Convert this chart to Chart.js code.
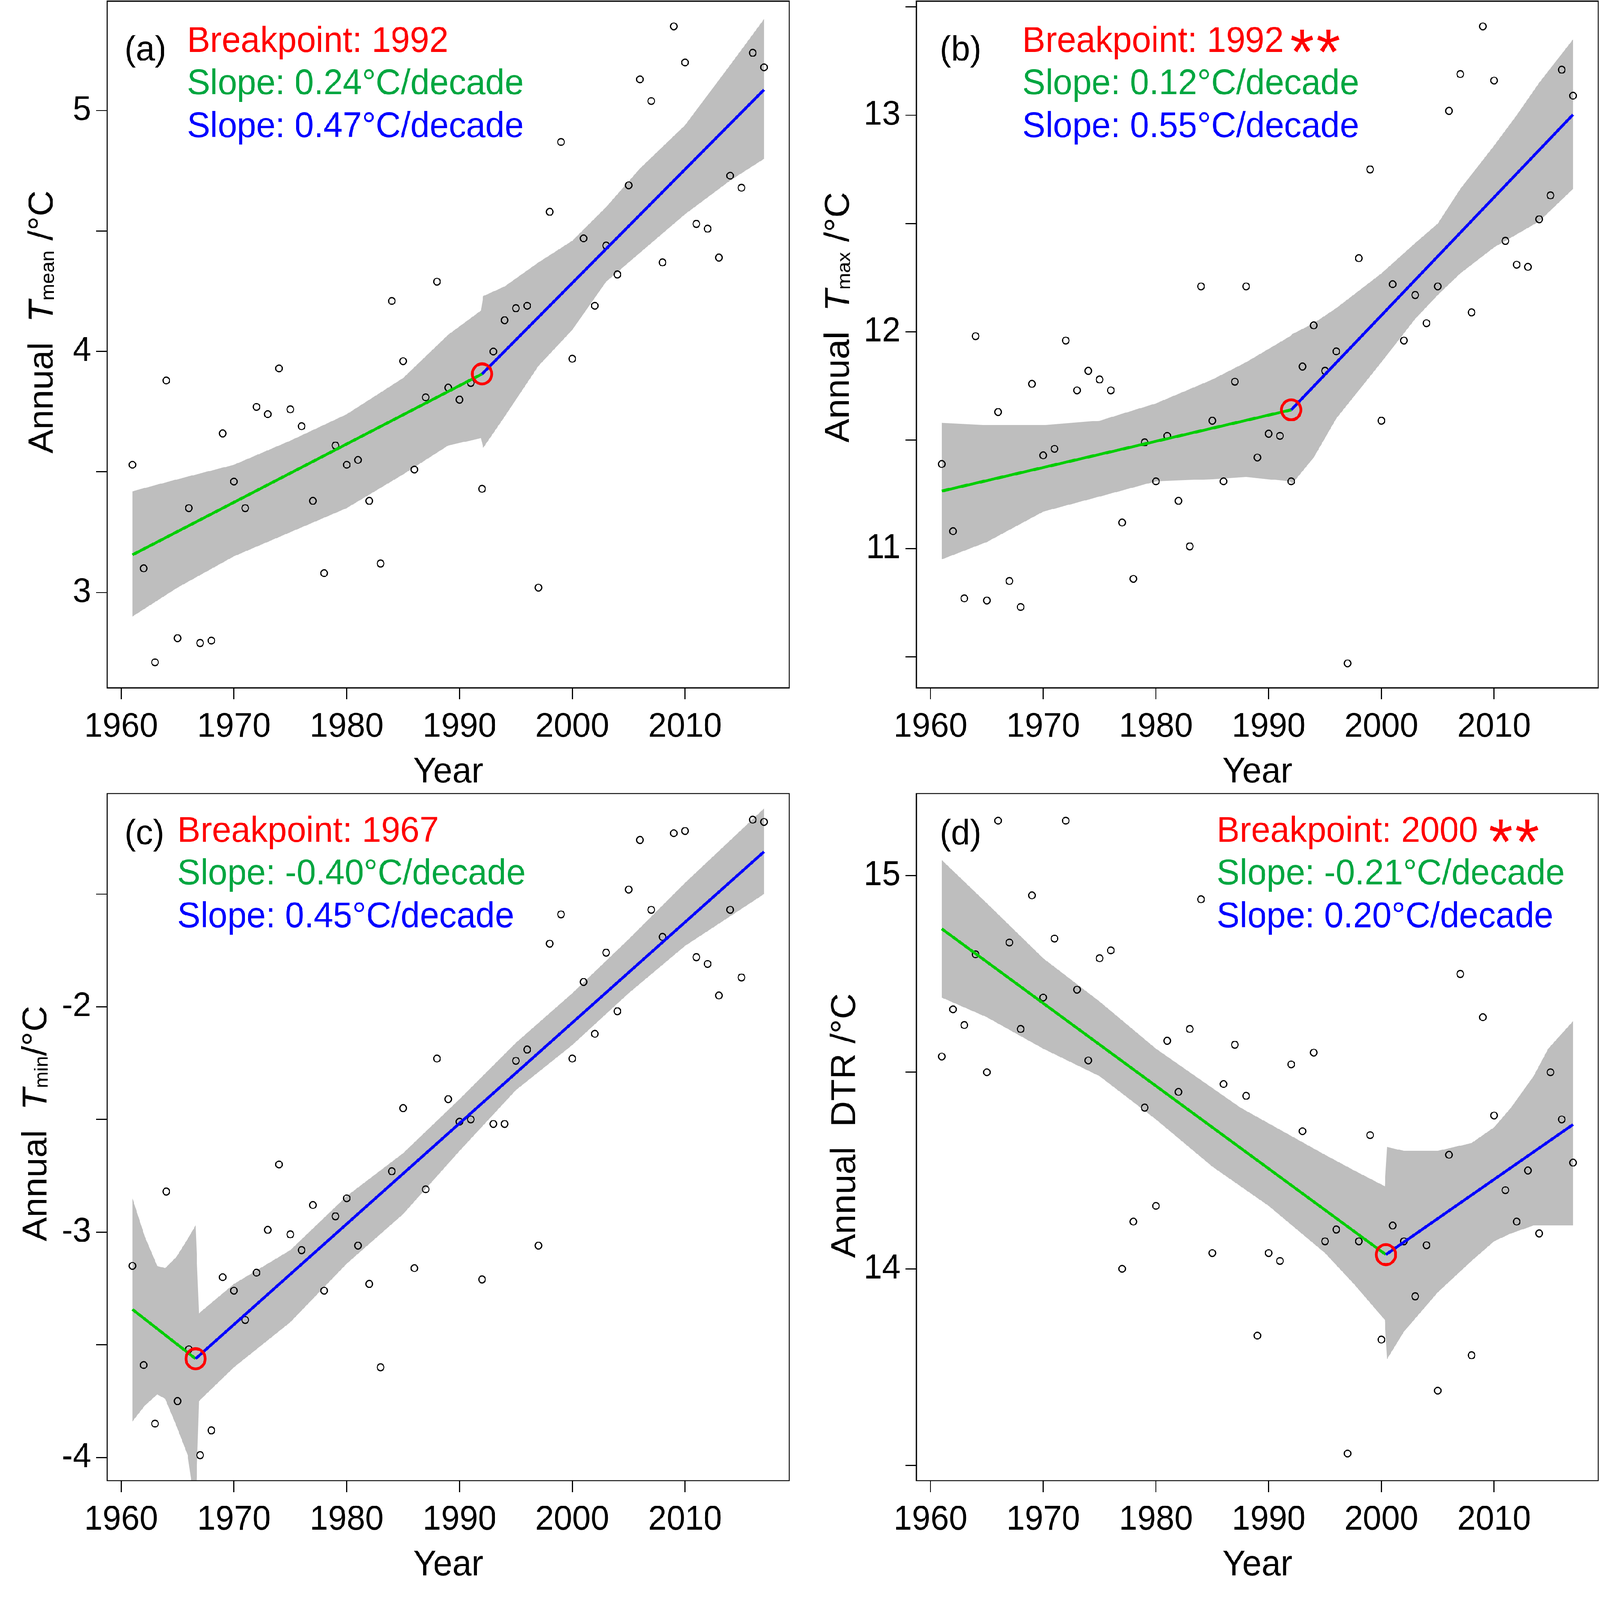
<!DOCTYPE html>
<html>
<head>
<meta charset="utf-8">
<title>Annual temperature breakpoints</title>
<script src="https://cdn.jsdelivr.net/npm/chart.js@4.4.1/dist/chart.umd.min.js"></script>
<style>
  html, body { margin: 0; padding: 0; background: #fff; overflow: hidden; }
  #page { position: relative; width: 4628px; height: 4478px; background: #fff; transform-origin: 0 0; }
  canvas { position: absolute; }
</style>
</head>
<body>
<div id="page">
  <canvas id="panelA" width="2314" height="2200" style="left:0px;top:0px"></canvas>
  <canvas id="panelB" width="2314" height="2200" style="left:2314px;top:0px"></canvas>
  <canvas id="panelC" width="2314" height="2278" style="left:0px;top:2200px"></canvas>
  <canvas id="panelD" width="2314" height="2278" style="left:2314px;top:2200px"></canvas>
</div>
<script>
// ---- data ----
const years = [1961, 1962, 1963, 1964, 1965, 1966, 1967, 1968, 1969, 1970,
               1971, 1972, 1973, 1974, 1975, 1976, 1977, 1978, 1979, 1980,
               1981, 1982, 1983, 1984, 1985, 1986, 1987, 1988, 1989, 1990,
               1991, 1992, 1993, 1994, 1995, 1996, 1997, 1998, 1999, 2000,
               2001, 2002, 2003, 2004, 2005, 2006, 2007, 2008, 2009, 2010,
               2011, 2012, 2013, 2014, 2015, 2016, 2017];

const tmeanValues = [3.53, 3.10, 2.71, 3.88, 2.81, 3.35, 2.79, 2.80, 3.66, 3.46,
                     3.35, 3.77, 3.74, 3.93, 3.76, 3.69, 3.38, 3.08, 3.61, 3.53,
                     3.55, 3.38, 3.12, 4.21, 3.96, 3.51, 3.81, 4.29, 3.85, 3.80,
                     3.87, 3.43, 4.00, 4.13, 4.18, 4.19, 3.02, 4.58, 4.87, 3.97,
                     4.47, 4.19, 4.44, 4.32, 4.69, 5.13, 5.04, 4.37, 5.35, 5.20,
                     4.53, 4.51, 4.39, 4.73, 4.68, 5.24, 5.18];

const tmaxValues = [11.39, 11.08, 10.77, 11.98, 10.76, 11.63, 10.85, 10.73, 11.76, 11.43,
                    11.46, 11.96, 11.73, 11.82, 11.78, 11.73, 11.12, 10.86, 11.49, 11.31,
                    11.52, 11.22, 11.01, 12.21, 11.59, 11.31, 11.77, 12.21, 11.42, 11.53,
                    11.52, 11.31, 11.84, 12.03, 11.82, 11.91, 10.47, 12.34, 12.75, 11.59,
                    12.22, 11.96, 12.17, 12.04, 12.21, 13.02, 13.19, 12.09, 13.41, 13.16,
                    12.42, 12.31, 12.30, 12.52, 12.63, 13.21, 13.09];

const tminValues = [-3.15, -3.59, -3.85, -2.82, -3.75, -3.52, -3.99, -3.88, -3.20, -3.26,
                    -3.39, -3.18, -2.99, -2.70, -3.01, -3.08, -2.88, -3.26, -2.93, -2.85,
                    -3.06, -3.23, -3.60, -2.73, -2.45, -3.16, -2.81, -2.23, -2.41, -2.51,
                    -2.50, -3.21, -2.52, -2.52, -2.24, -2.19, -3.06, -1.72, -1.59, -2.23,
                    -1.89, -2.12, -1.76, -2.02, -1.48, -1.26, -1.57, -1.69, -1.23, -1.22,
                    -1.78, -1.81, -1.95, -1.57, -1.87, -1.17, -1.18];

const dtrValues = [14.54, 14.66, 14.62, 14.80, 14.50, 15.14, 14.83, 14.61, 14.95, 14.69,
                   14.84, 15.14, 14.71, 14.53, 14.79, 14.81, 14.00, 14.12, 14.41, 14.16,
                   14.58, 14.45, 14.61, 14.94, 14.04, 14.47, 14.57, 14.44, 13.83, 14.04,
                   14.02, 14.52, 14.35, 14.55, 14.07, 14.10, 13.53, 14.07, 14.34, 13.82,
                   14.11, 14.07, 13.93, 14.06, 13.69, 14.29, 14.75, 13.78, 14.64, 14.39,
                   14.20, 14.12, 14.25, 14.09, 14.50, 14.38, 14.27];

// piecewise fits: start, breakpoint, end
const tmeanFitYears = [1961, 1992, 2017];
const tmeanFitValues = [3.156, 3.907, 5.087];
const tmaxFitYears = [1961, 1992, 2017];
const tmaxFitValues = [11.265, 11.640, 13.003];
const tminFitYears = [1961, 1966.6, 2017];
const tminFitValues = [-3.343, -3.562, -1.312];
const dtrFitYears = [1961, 2000.4, 2017];
const dtrFitValues = [14.865, 14.036, 14.367];

// confidence bands
const tmeanBandYears = [1961, 1965, 1970, 1975, 1980, 1985, 1989, 1991.9, 1992.1, 1994, 1997, 2000, 2003, 2006, 2010, 2014, 2017];
const tmeanBandUpper = [3.42, 3.47, 3.53, 3.63, 3.74, 3.89, 4.07, 4.17, 4.23, 4.27, 4.37, 4.46, 4.60, 4.76, 4.94, 5.19, 5.38];
const tmeanBandLower = [2.90, 3.02, 3.15, 3.25, 3.35, 3.49, 3.61, 3.64, 3.60, 3.73, 3.94, 4.09, 4.29, 4.41, 4.57, 4.71, 4.80];

const tmaxBandYears = [1961, 1965, 1970, 1975, 1980, 1985, 1988, 1991.9, 1992.1, 1994, 1996, 2000, 2003, 2005, 2007, 2010, 2012, 2014, 2017];
const tmaxBandUpper = [11.58, 11.57, 11.57, 11.59, 11.67, 11.78, 11.86, 11.98, 11.99, 12.04, 12.11, 12.27, 12.41, 12.50, 12.66, 12.86, 13.00, 13.15, 13.35];
const tmaxBandLower = [10.95, 11.03, 11.17, 11.24, 11.31, 11.32, 11.33, 11.31, 11.30, 11.42, 11.60, 11.86, 12.06, 12.17, 12.27, 12.39, 12.45, 12.51, 12.66];

const tminBandYears = [1961, 1962.1, 1963.2, 1963.9, 1964.9, 1965.9, 1966.6, 1966.9, 1970, 1975, 1980, 1985, 1990, 1995, 2000, 2005, 2010, 2017];
const tminBandUpper = [-2.85, -3.02, -3.15, -3.16, -3.11, -3.03, -2.97, -3.36, -3.23, -3.08, -2.84, -2.65, -2.41, -2.16, -1.94, -1.70, -1.45, -1.12];
const tminBandLower = [-3.84, -3.77, -3.72, -3.74, -3.86, -3.99, -4.25, -3.75, -3.60, -3.40, -3.14, -2.92, -2.64, -2.37, -2.17, -1.94, -1.73, -1.50];

const dtrBandYears = [1961, 1965, 1970, 1975, 1980, 1985, 1987.5, 1990, 1995, 1997.6, 2000.3, 2000.5, 2002, 2005, 2008, 2010, 2011.5, 2013.5, 2014.8, 2017];
const dtrBandUpper = [15.04, 14.93, 14.79, 14.68, 14.56, 14.46, 14.41, 14.37, 14.29, 14.25, 14.21, 14.31, 14.30, 14.30, 14.32, 14.36, 14.41, 14.49, 14.56, 14.63];
const dtrBandLower = [14.69, 14.64, 14.56, 14.49, 14.38, 14.26, 14.21, 14.16, 14.04, 13.96, 13.87, 13.77, 13.84, 13.94, 14.02, 14.07, 14.09, 14.11, 14.11, 14.11];

// axes
const xMin = 1958.76, xMax = 2019.24;
const xTickValues = [1960, 1970, 1980, 1990, 2000, 2010];
const tmeanTicks = [3, 3.5, 4, 4.5, 5];
const tmeanLabels = [3, 4, 5];
const tmaxTicks = [10.5, 11, 11.5, 12, 12.5, 13, 13.5];
const tmaxLabels = [11, 12, 13];
const tminTicks = [-4, -3.5, -3, -2.5, -2, -1.5];
const tminLabels = [-4, -3, -2];
const dtrTicks = [13.5, 14, 14.5, 15];
const dtrLabels = [14, 15];

const FONT = '"Liberation Sans", Arial, Helvetica, sans-serif';
const RED = '#FF0000', TEXT_GREEN = '#00A640', LINE_GREEN = '#00CD00', BLUE = '#0000FF';

// the figure is laid out at 4628x4478; stretch it onto the viewport we actually get
function fitPage() {
    const kx = Math.min(window.innerWidth / 4628, 1);
    const ky = Math.min(window.innerHeight / 4478, 1);
    document.getElementById('page').style.transform = 'scale(' + kx + ',' + ky + ')';
}
fitPage();

function toPoints(xs, ys) {
    return xs.map((x, i) => ({ x: x, y: ys[i] }));
}

// box, panel letter, annotation, axis titles
function makeTextPlugin(p) {
    return {
        id: 'panelText',
        afterDraw(chart) {
            const c = chart.ctx;
            const a = chart.chartArea;
            c.save();
            c.strokeStyle = '#000';
            c.lineWidth = 3.3;
            c.strokeRect(a.left, a.top, a.right - a.left, a.bottom - a.top);

            c.textAlign = 'left';
            c.textBaseline = 'alphabetic';
            c.fillStyle = '#000';
            c.font = '99px ' + FONT;
            c.fillText(p.letter, a.left + p.letterX, a.top + p.letterY);

            c.font = '100px ' + FONT;
            p.notes.forEach((n, i) => {
                c.fillStyle = n.color;
                c.fillText(n.text, a.left + p.noteX, a.top + p.noteY[i]);
            });
            if (p.starDX) {
                c.font = '100px ' + FONT;
                const w = c.measureText(p.notes[0].text).width;
                const sx = a.left + p.noteX + w + p.starDX;
                const sy = a.top + p.noteY[0] + 62;
                c.font = '180px ' + FONT;
                c.textAlign = 'center';
                c.fillStyle = RED;
                c.fillText('*', sx, sy);
                c.fillText('*', sx + 76, sy);
            }

            // x title
            c.fillStyle = '#000';
            c.textAlign = 'center';
            c.font = '100px ' + FONT;
            c.fillText('Year', (a.left + a.right) / 2, a.bottom + 265);

            // y title, rotated, built from pieces (italic T + subscript)
            c.textAlign = 'left';
            let total = 0;
            p.yTitle.forEach(s => { c.font = s.font; total += c.measureText(s.text).width; });
            c.translate(a.left - p.yTitleOffset, (a.top + a.bottom) / 2 + p.yTitleShift);
            c.rotate(-Math.PI / 2);
            let x = -total / 2;
            p.yTitle.forEach(s => {
                c.font = s.font;
                c.fillText(s.text, x, s.dy || 0);
                x += c.measureText(s.text).width;
            });
            c.restore();
        }
    };
}

function drawPanel(canvasId, p) {
    const ctx = document.getElementById(canvasId).getContext('2d');
    const tickGrid = { drawOnChartArea: false, drawTicks: true, tickLength: 32, tickWidth: 3, tickColor: '#000' };
    return new Chart(ctx, {
        type: 'line',
        data: {
            datasets: [
                { label: 'breakpoint', data: [{ x: p.fitX[1], y: p.fitY[1] }], showLine: false,
                  pointRadius: 28, pointBorderWidth: 8, pointBorderColor: RED,
                  pointBackgroundColor: 'rgba(0,0,0,0)', order: 1 },
                { label: 'after', data: toPoints(p.fitX.slice(1), p.fitY.slice(1)),
                  borderColor: BLUE, borderWidth: 8, pointRadius: 0, fill: false, order: 2 },
                { label: 'before', data: toPoints(p.fitX.slice(0, 2), p.fitY.slice(0, 2)),
                  borderColor: LINE_GREEN, borderWidth: 8, pointRadius: 0, fill: false, order: 3 },
                { label: 'observed', data: toPoints(years, p.values), showLine: false,
                  pointRadius: 9.5, pointBorderWidth: 3.2, pointBorderColor: '#000',
                  pointBackgroundColor: 'rgba(0,0,0,0)', order: 4 },
                { label: 'upper', data: toPoints(p.bandX, p.bandHi), borderColor: 'rgba(0,0,0,0)',
                  borderWidth: 1, pointRadius: 0, fill: '+1', backgroundColor: '#BEBEBE', order: 5, clip: 0 },
                { label: 'lower', data: toPoints(p.bandX, p.bandLo), borderColor: 'rgba(0,0,0,0)',
                  borderWidth: 1, pointRadius: 0, fill: false, order: 6, clip: 0 }
            ]
        },
        options: {
            responsive: false,
            animation: false,
            devicePixelRatio: 1,
            events: [],
            layout: { autoPadding: false, padding: { left: 0, top: p.padTop, right: p.padRight, bottom: 0 } },
            plugins: { legend: { display: false }, tooltip: { enabled: false } },
            scales: {
                x: {
                    type: 'linear', position: 'bottom', min: xMin, max: xMax,
                    afterBuildTicks: s => { s.ticks = xTickValues.map(v => ({ value: v })); },
                    afterFit: s => { s.height = p.xAxisHeight; s.paddingLeft = 0; s.paddingRight = 0; },
                    grid: tickGrid,
                    border: { display: false },
                    ticks: { color: '#000', font: { family: FONT, size: 96 }, padding: 21,
                             maxRotation: 0, minRotation: 0, autoSkip: false,
                             callback: v => String(v) }
                },
                y: {
                    type: 'linear', position: 'left', min: p.yMin, max: p.yMax,
                    afterBuildTicks: s => { s.ticks = p.yTicks.map(v => ({ value: v })); },
                    afterFit: s => { s.width = p.yAxisWidth; s.paddingTop = 0; s.paddingBottom = 0; },
                    grid: tickGrid,
                    border: { display: false },
                    ticks: { color: '#000', font: { family: FONT, size: 96 }, padding: 14, autoSkip: false,
                             callback: v => (p.yLabels.includes(v) ? String(v) : '') }
                }
            }
        },
        plugins: [makeTextPlugin(p)]
    });
}

const N = '100px ' + FONT, I = 'italic 100px ' + FONT, S = '56px ' + FONT;

drawPanel('panelA', {
    values: tmeanValues, fitX: tmeanFitYears, fitY: tmeanFitValues,
    bandX: tmeanBandYears, bandHi: tmeanBandUpper, bandLo: tmeanBandLower,
    yMin: 2.604, yMax: 5.455, yTicks: tmeanTicks, yLabels: tmeanLabels,
    padTop: 3, padRight: 31, yAxisWidth: 310, xAxisHeight: 275,
    letter: '(a)', letterX: 50, letterY: 166,
    noteX: 231, noteY: [142, 261, 381],
    notes: [{ text: 'Breakpoint: 1992', color: RED },
            { text: 'Slope: 0.24°C/decade', color: TEXT_GREEN },
            { text: 'Slope: 0.47°C/decade', color: BLUE }],
    yTitle: [{ text: 'Annual  ', font: N }, { text: 'T', font: I },
             { text: 'mean', font: S, dy: 4 }, { text: ' /°C', font: N }],
    yTitleOffset: 158, yTitleShift: -63
});

drawPanel('panelB', {
    values: tmaxValues, fitX: tmaxFitYears, fitY: tmaxFitValues,
    bandX: tmaxBandYears, bandHi: tmaxBandUpper, bandLo: tmaxBandLower,
    yMin: 10.357, yMax: 13.527, yTicks: tmaxTicks, yLabels: tmaxLabels,
    padTop: 3, padRight: 5, yAxisWidth: 337, xAxisHeight: 275,
    letter: '(b)', letterX: 67, letterY: 166,
    noteX: 306, noteY: [142, 261, 381], starDX: 53,
    notes: [{ text: 'Breakpoint: 1992', color: RED },
            { text: 'Slope: 0.12°C/decade', color: TEXT_GREEN },
            { text: 'Slope: 0.55°C/decade', color: BLUE }],
    yTitle: [{ text: 'Annual  ', font: N }, { text: 'T', font: I },
             { text: 'max', font: S, dy: 4 }, { text: ' /°C', font: N }],
    yTitleOffset: 196, yTitleShift: -76
});

drawPanel('panelC', {
    values: tminValues, fitX: tminFitYears, fitY: tminFitValues,
    bandX: tminBandYears, bandHi: tminBandUpper, bandLo: tminBandLower,
    yMin: -4.103, yMax: -1.054, yTicks: tminTicks, yLabels: tminLabels,
    padTop: 21, padRight: 31, yAxisWidth: 310, xAxisHeight: 334,
    letter: '(c)', letterX: 50, letterY: 141.5,
    noteX: 203, noteY: [135, 254, 374],
    notes: [{ text: 'Breakpoint: 1967', color: RED },
            { text: 'Slope: -0.40°C/decade', color: TEXT_GREEN },
            { text: 'Slope: 0.45°C/decade', color: BLUE }],
    yTitle: [{ text: 'Annual  ', font: N }, { text: 'T', font: I },
             { text: 'min', font: S, dy: 4 }, { text: '/°C', font: N }],
    yTitleOffset: 176, yTitleShift: -38
});

drawPanel('panelD', {
    values: dtrValues, fitX: dtrFitYears, fitY: dtrFitValues,
    bandX: dtrBandYears, bandHi: dtrBandUpper, bandLo: dtrBandLower,
    yMin: 13.461, yMax: 15.209, yTicks: dtrTicks, yLabels: dtrLabels,
    padTop: 21, padRight: 5, yAxisWidth: 337, xAxisHeight: 334,
    letter: '(d)', letterX: 67, letterY: 141.5,
    noteX: 868, noteY: [135, 254, 374], starDX: 66,
    notes: [{ text: 'Breakpoint: 2000', color: RED },
            { text: 'Slope: -0.21°C/decade', color: TEXT_GREEN },
            { text: 'Slope: 0.20°C/decade', color: BLUE }],
    yTitle: [{ text: 'Annual  DTR /°C', font: N }],
    yTitleOffset: 178, yTitleShift: -32
});
</script>
</body>
</html>
